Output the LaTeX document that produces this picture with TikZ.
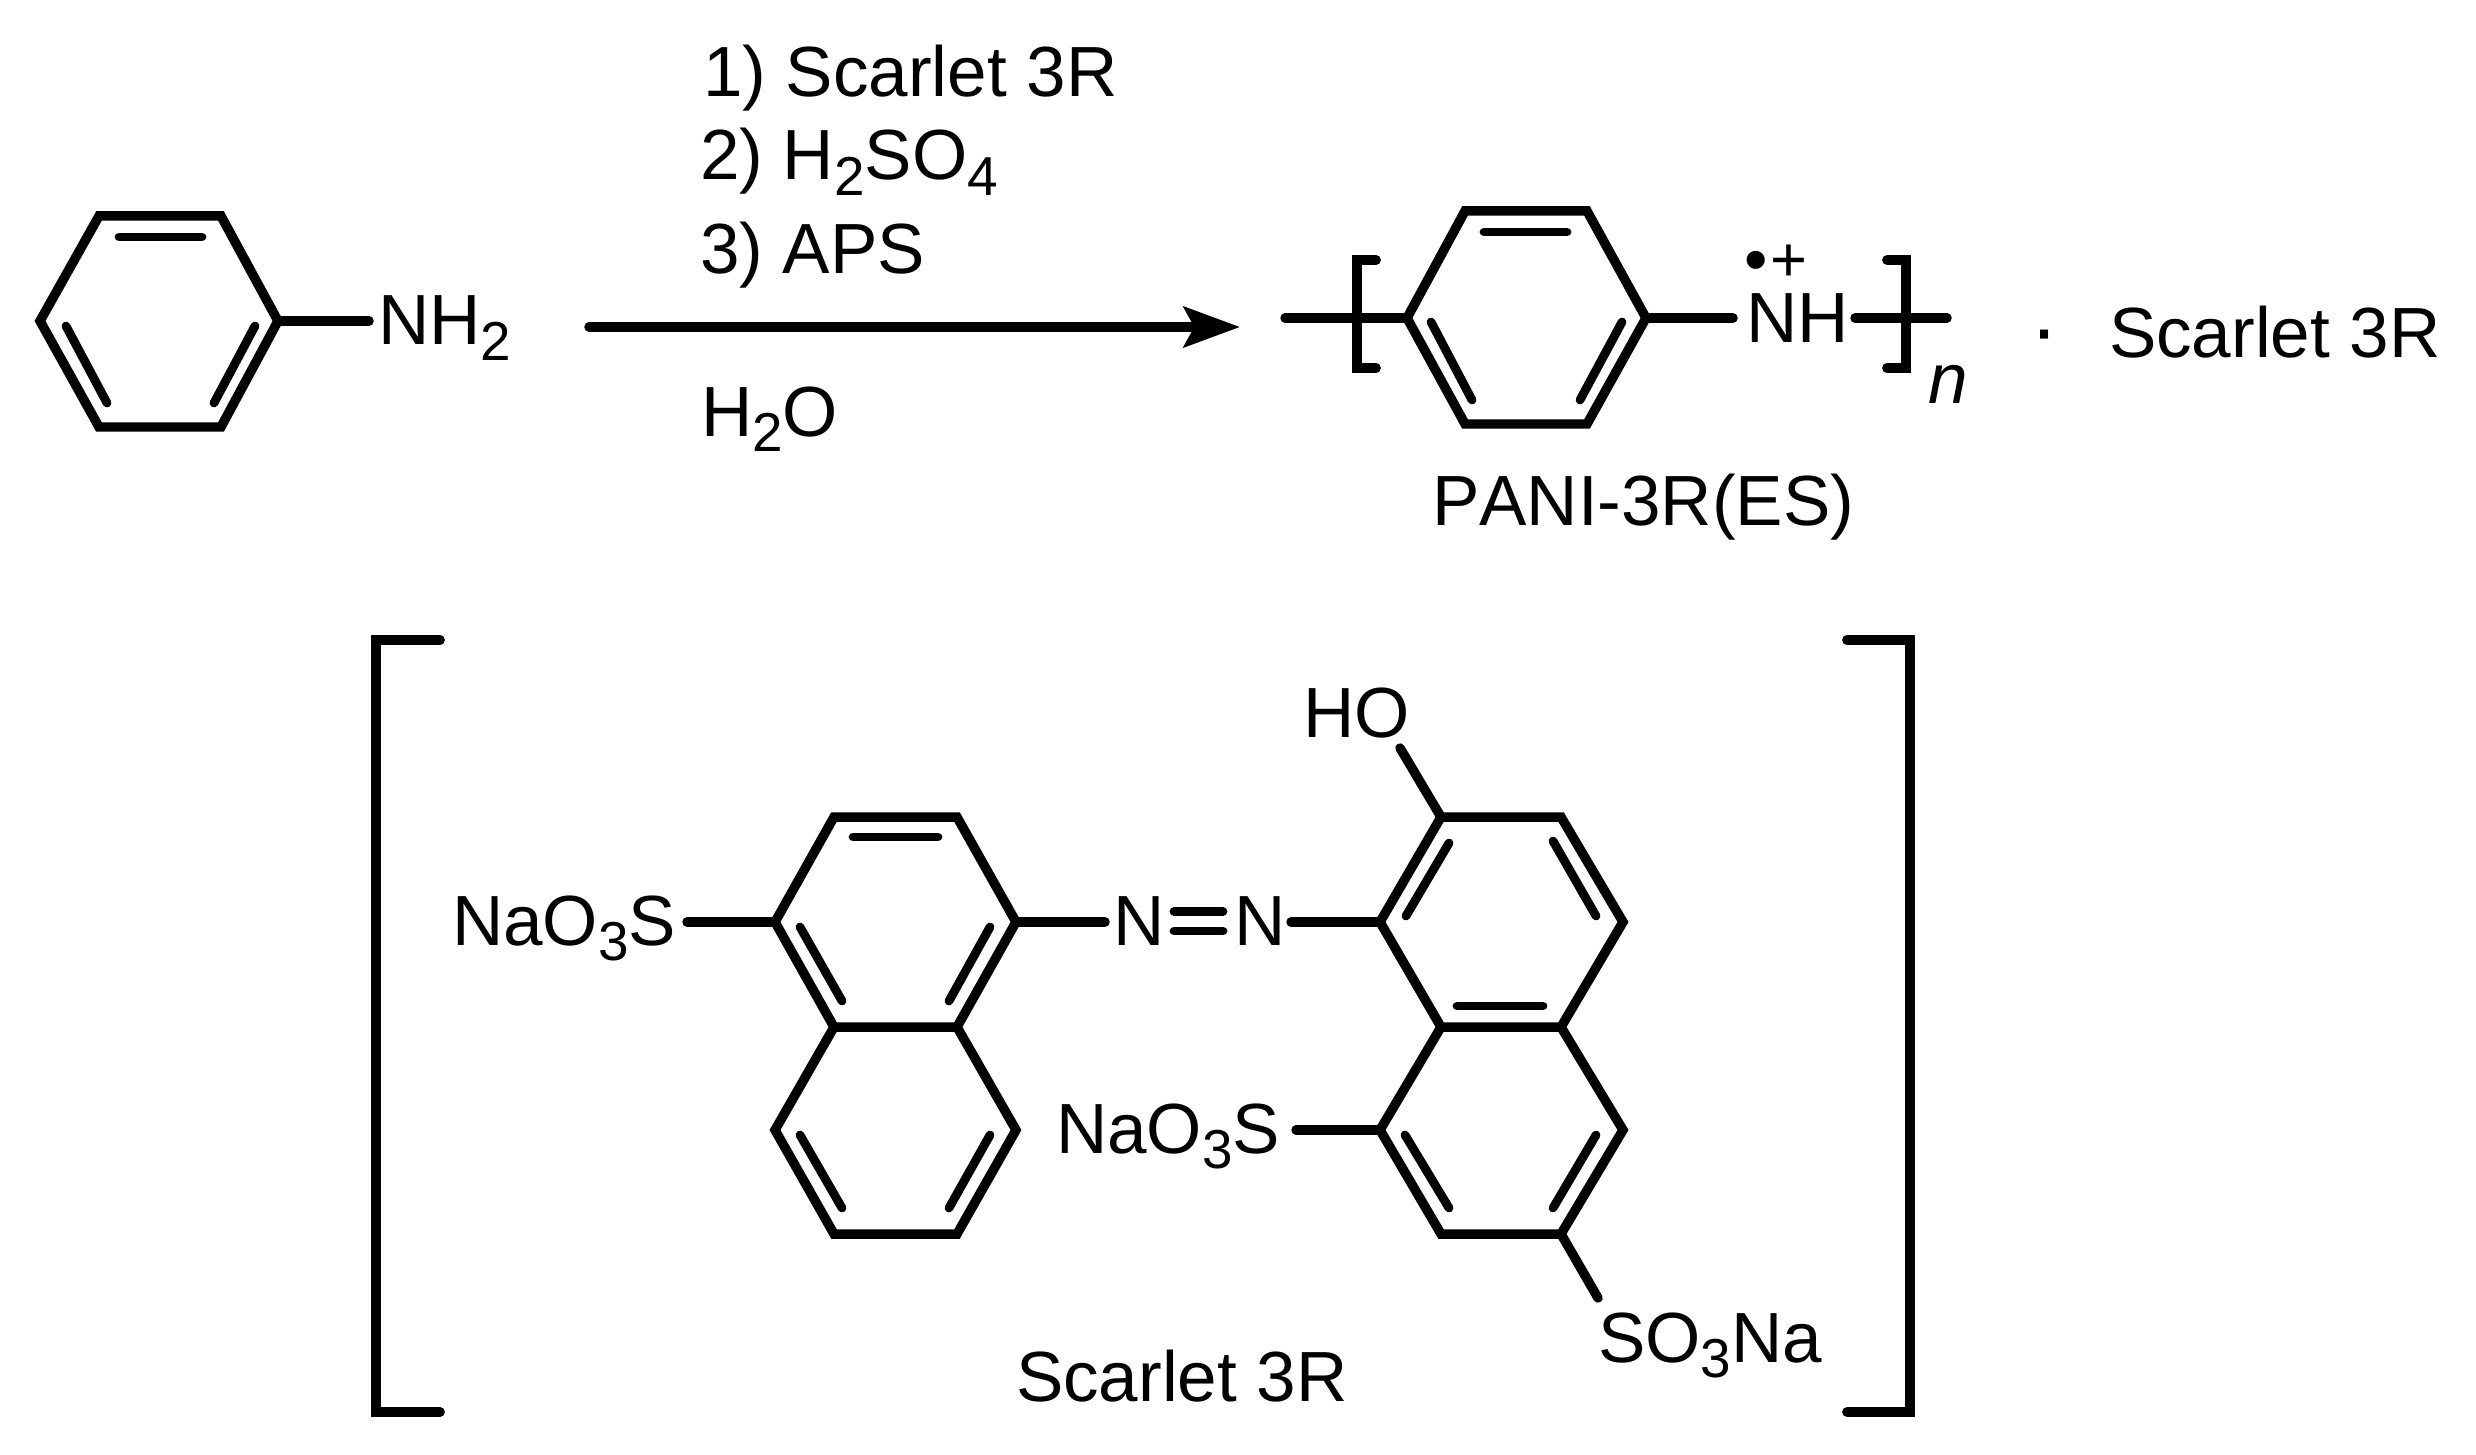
\documentclass[tikz,border=0pt]{standalone}
\usepackage{fontspec}
\setmainfont{Liberation Sans}
\usetikzlibrary{arrows.meta}
\newcommand{\sbs}[1]{\raisebox{-4.3pt}{\fontsize{15.6}{18}\selectfont #1}}
\tikzset{
  x=0.01cm,y=-0.01cm,
  bond/.style={draw=black,line width=2.7pt,line cap=round,line join=miter},
  ring/.style={draw=black,line width=2.7pt,line join=miter},
  inbond/.style={draw=black,line width=2.5pt,line cap=round},
  brack/.style={draw=black,line width=2.8pt,line cap=round,line join=miter},
  lbl/.style={anchor=base west,inner sep=0pt,outer sep=0pt,font=\fontsize{20.2}{24}\selectfont,text=black},
}
\begin{document}
\begin{tikzpicture}
\useasboundingbox (0,0) rectangle (2476,1455);
\fill[white] (0,0) rectangle (2476,1455);
% ---------- aniline
\coordinate (a1) at (99,216); \coordinate (a2) at (221,216); \coordinate (a3) at (278,321);
\coordinate (a4) at (221,427); \coordinate (a5) at (99,427); \coordinate (a6) at (40,321);
\draw[ring] (a1)--(a2)--(a3)--(a4)--(a5)--(a6)--cycle;
\coordinate (ai1) at (119,237); \coordinate (ai2) at (202,237);
\coordinate (ai3) at (66,326); \coordinate (ai4) at (107,403);
\coordinate (ai5) at (255,326); \coordinate (ai6) at (214,403);
\draw[inbond] (ai1)--(ai2); \draw[inbond] (ai3)--(ai4); \draw[inbond] (ai5)--(ai6);
\coordinate (aN) at (369,321);
\draw[bond] (a3)--(aN);
\node[lbl] (nh2) at (378,345) {NH\sbs{2}};
% ---------- reagents and arrow
\node[lbl] (r1) at (703,97) {1) Scarlet 3R};
\node[lbl] (r2) at (700,180) {2) H\sbs{2}SO\sbs{4}};
\node[lbl] (r3) at (700,274) {3) APS};
\node[lbl] (r4) at (701,436) {H\sbs{2}O};
\coordinate (arrS) at (589,327); \coordinate (arrE) at (1240,327);
\draw[draw=black,line width=2.7pt,line cap=round,-{Stealth[length=16pt,width=11.5pt,inset=3pt]}] (arrS)--(arrE);
% ---------- PANI
\coordinate (p1) at (1465,211); \coordinate (p2) at (1587,211); \coordinate (p3) at (1646,318);
\coordinate (p4) at (1587,424); \coordinate (p5) at (1465,424); \coordinate (p6) at (1407,318);
\draw[ring] (p1)--(p2)--(p3)--(p4)--(p5)--(p6)--cycle;
\coordinate (pi1) at (1484,232); \coordinate (pi2) at (1567,232);
\coordinate (pi3) at (1431,322); \coordinate (pi4) at (1472,400);
\coordinate (pi5) at (1622,322); \coordinate (pi6) at (1580,400);
\draw[inbond] (pi1)--(pi2); \draw[inbond] (pi3)--(pi4); \draw[inbond] (pi5)--(pi6);
\coordinate (pL) at (1285,318); \coordinate (pN) at (1733,318);
\coordinate (pH) at (1855,318); \coordinate (pR) at (1947,318);
\draw[bond] (pL)--(p6); \draw[bond] (p3)--(pN); \draw[bond] (pH)--(pR);
\coordinate (bl1) at (1376,260); \coordinate (bl2) at (1357,260); \coordinate (bl3) at (1357,368); \coordinate (bl4) at (1376,368);
\draw[brack] (bl1)--(bl2)--(bl3)--(bl4);
\coordinate (br1) at (1887,260); \coordinate (br2) at (1906,260); \coordinate (br3) at (1906,368); \coordinate (br4) at (1887,368);
\draw[brack] (br1)--(br2)--(br3)--(br4);
\node[lbl] (nh) at (1746,343) {NH};
\node[lbl,font=\fontsize{19}{20}\selectfont,anchor=base] (bul) at (1756,283) {•};
\node[lbl,font=\fontsize{18}{18}\selectfont,anchor=base] (plus) at (1789,282) {+};
\node[lbl,font=\fontsize{20.2}{24}\selectfont\itshape] (nn) at (1928,404) {n};
\node[lbl,font=\fontsize{24}{24}\selectfont] (dot) at (2030,357) {·};
\node[lbl] (sc2) at (2109,357) {Scarlet 3R};
\node[lbl] (pani) at (1432,525) {P\kern0pt ANI-3R(ES)};
% ---------- outer brackets
\coordinate (Bl1) at (440,640); \coordinate (Bl2) at (376,640); \coordinate (Bl3) at (376,1412); \coordinate (Bl4) at (440,1412);
\draw[brack] (Bl1)--(Bl2)--(Bl3)--(Bl4);
\coordinate (Br1) at (1847,640); \coordinate (Br2) at (1910,640); \coordinate (Br3) at (1910,1412); \coordinate (Br4) at (1847,1412);
\draw[brack] (Br1)--(Br2)--(Br3)--(Br4);
% ---------- left naphthalene
\coordinate (l1) at (834,817); \coordinate (l2) at (957,817); \coordinate (l3) at (1016,922);
\coordinate (l4) at (957,1027); \coordinate (l5) at (834,1027); \coordinate (l6) at (775,922);
\coordinate (l7) at (1016,1130); \coordinate (l8) at (957,1234); \coordinate (l9) at (834,1234); \coordinate (l10) at (775,1130);
\draw[ring] (l1)--(l2)--(l3)--(l4)--(l5)--(l6)--cycle;
\draw[ring] (l4)--(l7)--(l8)--(l9)--(l10)--(l5);
\coordinate (li1) at (853,837); \coordinate (li2) at (938,837);
\coordinate (li3) at (800,927); \coordinate (li4) at (842,1001);
\coordinate (li5) at (990,927); \coordinate (li6) at (949,1001);
\coordinate (li7) at (800,1135); \coordinate (li8) at (842,1208);
\coordinate (li9) at (990,1135); \coordinate (li10) at (949,1208);
\draw[inbond] (li1)--(li2); \draw[inbond] (li3)--(li4); \draw[inbond] (li5)--(li6);
\draw[inbond] (li7)--(li8); \draw[inbond] (li9)--(li10);
% ---------- right naphthalene
\coordinate (r1v) at (1441,817); \coordinate (r2v) at (1561,817); \coordinate (r3v) at (1623,922);
\coordinate (r4v) at (1561,1027); \coordinate (r5v) at (1441,1027); \coordinate (r6v) at (1380,922);
\coordinate (r7v) at (1623,1130); \coordinate (r8v) at (1561,1234); \coordinate (r9v) at (1441,1234); \coordinate (r10v) at (1380,1130);
\draw[ring] (r1v)--(r2v)--(r3v)--(r4v)--(r5v)--(r6v)--cycle;
\draw[ring] (r4v)--(r7v)--(r8v)--(r9v)--(r10v)--(r5v);
\coordinate (ri1) at (1449,843); \coordinate (ri2) at (1406,916);
\coordinate (ri3) at (1553,841); \coordinate (ri4) at (1596,916);
\coordinate (ri5) at (1457,1006); \coordinate (ri6) at (1543,1006);
\coordinate (ri7) at (1405,1135); \coordinate (ri8) at (1449,1208);
\coordinate (ri9) at (1596,1135); \coordinate (ri10) at (1553,1208);
\draw[inbond] (ri1)--(ri2); \draw[inbond] (ri3)--(ri4); \draw[inbond] (ri5)--(ri6);
\draw[inbond] (ri7)--(ri8); \draw[inbond] (ri9)--(ri10);
% ---------- substituents
\node[lbl] (s1) at (452,945.5) {NaO\sbs{3}S};
\coordinate (s1e) at (687,922); \draw[bond] (s1e)--(l6);
\node[lbl] (n1) at (1113,945.5) {N};
\node[lbl] (n2) at (1234,945.5) {N};
\coordinate (n1e) at (1105,922); \draw[bond] (l3)--(n1e);
\coordinate (n2e) at (1291,922); \draw[bond] (n2e)--(r6v);
\coordinate (d1) at (1174,911.5); \coordinate (d2) at (1223,911.5);
\coordinate (d3) at (1174,931); \coordinate (d4) at (1223,931);
\draw[inbond] (d1)--(d2); \draw[inbond] (d3)--(d4);
\node[lbl] (s2) at (1056,1153.5) {NaO\sbs{3}S};
\coordinate (s2e) at (1296,1130); \draw[bond] (s2e)--(r10v);
\node[lbl] (ho) at (1303,737) {HO};
\coordinate (hoe) at (1400,748); \draw[bond] (hoe)--(r1v);
\node[lbl] (s3) at (1598,1362) {SO\sbs{3}Na};
\coordinate (s3e) at (1598,1298); \draw[bond] (r8v)--(s3e);
\node[lbl] (sc3) at (1016,1401) {Scarlet 3R};
\end{tikzpicture}
\end{document}
